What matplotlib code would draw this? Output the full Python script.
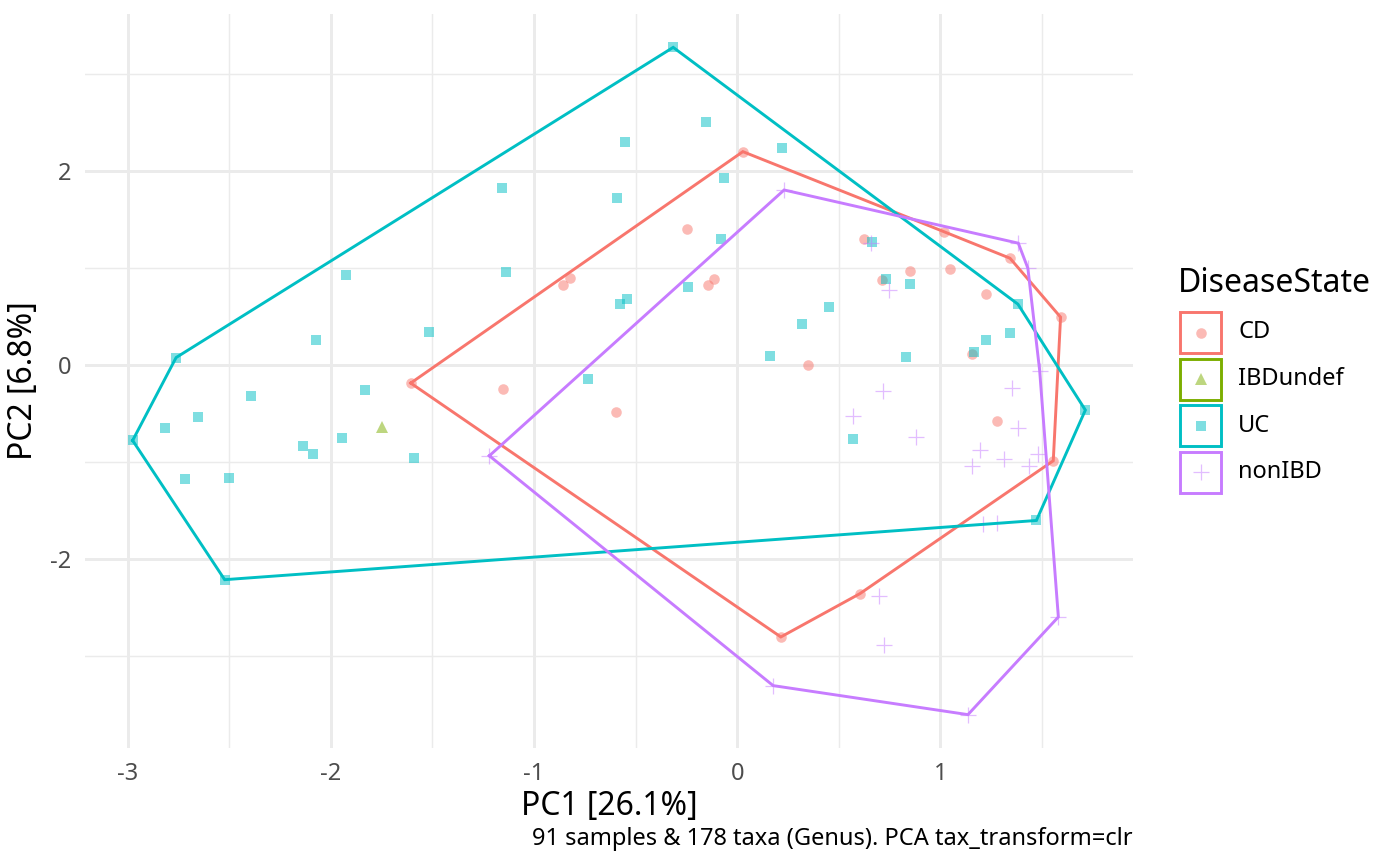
import matplotlib
matplotlib.use('Agg')
import matplotlib.pyplot as plt
from matplotlib.patches import Rectangle

plt.rcParams['font.family'] = ['Noto Sans', 'DejaVu Sans']
plt.rcParams['axes.unicode_minus'] = False

# PCA scores, one group per disease state
cd_x = [0.028, -0.249, -0.823, -0.856, -0.113, -0.144, 0.351, -1.154, -0.597, -1.607,
        0.215, 0.604, 0.623, 1.017, 1.343, 0.853, 1.048, 0.715, 1.227, 1.592,
        1.158, 1.277, 1.556]
cd_y = [2.196, 1.397, 0.899, 0.823, 0.885, 0.823, 0.003, -0.250, -0.487, -0.188,
        -2.803, -2.357, 1.300, 1.372, 1.098, 0.971, 0.985, 0.878, 0.731, 0.491,
        0.116, -0.576, -0.988]

ibdu_x = [-1.746]
ibdu_y = [-0.643]

uc_x = [-2.762, -2.071, -1.926, -1.516, -1.156, -1.136, -2.976, -2.818, -2.656, -2.395,
        -1.831, -2.138, -2.090, -1.946, -1.592, -2.717, -2.504, -2.523, -0.315, -0.155,
        -0.551, 0.220, -0.065, -0.593, -0.082, -0.243, -0.544, -0.577, 0.453, 0.320,
        0.164, -0.736, 0.664, 0.735, 0.853, 1.382, 1.343, 1.225, 1.164, 0.831,
        1.714, 0.569, 1.473]
uc_y = [0.075, 0.260, 0.929, 0.343, 1.825, 0.960, -0.779, -0.652, -0.542, -0.319,
        -0.257, -0.841, -0.916, -0.751, -0.957, -1.173, -1.166, -2.213, 3.270, 2.504,
        2.292, 2.231, 1.922, 1.716, 1.297, 0.800, 0.679, 0.625, 0.600, 0.422,
        0.090, -0.147, 1.269, 0.882, 0.837, 0.625, 0.332, 0.257, 0.137, 0.082,
        -0.466, -0.762, -1.603]

non_x = [0.231, 0.661, 1.384, 1.431, 0.748, 1.489, 1.353, 0.720, 0.571, 1.382,
         0.879, 1.194, 1.481, 1.313, 1.158, 1.436, 1.210, 1.279, 0.697, 0.722,
         1.581, 1.136, 0.177, -1.220]
non_y = [1.801, 1.253, 1.253, 0.995, 0.772, -0.059, -0.240, -0.268, -0.525, -0.652,
         -0.748, -0.875, -0.916, -0.968, -1.047, -1.047, -1.637, -1.629, -2.378, -2.882,
         -2.597, -3.603, -3.304, -0.937]

groups = ['CD', 'IBDundef', 'UC', 'nonIBD']
colors = ['#F8766D', '#7CAE00', '#00BFC4', '#C77CFF']
markers = ['o', '^', 's', '+']
msizes = [7.6, 9.0, 7.2, 11.5]
xs = [cd_x, ibdu_x, uc_x, non_x]
ys = [cd_y, ibdu_y, uc_y, non_y]


def convex_hull(px, py):
    pts = sorted(set(zip(px, py)))
    if len(pts) < 3:
        return pts

    def cross(o, a, b):
        return (a[0] - o[0]) * (b[1] - o[1]) - (a[1] - o[1]) * (b[0] - o[0])

    lower = []
    for p in pts:
        while len(lower) >= 2 and cross(lower[-2], lower[-1], p) <= 0:
            lower.pop()
        lower.append(p)
    upper = []
    for p in reversed(pts):
        while len(upper) >= 2 and cross(upper[-2], upper[-1], p) <= 0:
            upper.pop()
        upper.append(p)
    return lower[:-1] + upper[:-1]


fig = plt.figure(figsize=(14, 8.66), dpi=100)
ax = fig.add_axes([85 / 1400, 118 / 866, 1048 / 1400, 734 / 866])

# points
for g, c, m, ms, x, y in zip(groups, colors, markers, msizes, xs, ys):
    mew = 0.9 if m == '+' else 0
    ax.plot(x, y, linestyle='none', marker=m, markersize=ms, color=c, alpha=0.5,
            markeredgewidth=mew, zorder=3)

# hulls
for g, c, x, y in zip(groups, colors, xs, ys):
    h = convex_hull(x, y)
    if len(h) >= 3:
        hx = [p[0] for p in h] + [h[0][0]]
        hy = [p[1] for p in h] + [h[0][1]]
        ax.plot(hx, hy, color=c, linewidth=2.1, zorder=4, solid_joinstyle='miter')

# ggplot style 5% expansion
allx = cd_x + ibdu_x + uc_x + non_x
ally = cd_y + ibdu_y + uc_y + non_y
dx = (max(allx) - min(allx)) * 0.05
dy = (max(ally) - min(ally)) * 0.05
ax.set_xlim(min(allx) - dx, max(allx) + dx)
ax.set_ylim(min(ally) - dy, max(ally) + dy)

ax.set_xticks([-3, -2, -1, 0, 1])
ax.set_xticks([-2.5, -1.5, -0.5, 0.5, 1.5], minor=True)
ax.set_yticks([-2, 0, 2])
ax.set_yticks([-3, -1, 1, 3], minor=True)
ax.grid(which='major', color='#EBEBEB', linewidth=2.1)
ax.grid(which='minor', color='#EBEBEB', linewidth=1.05)
ax.set_axisbelow(True)
for s in ax.spines.values():
    s.set_visible(False)
ax.tick_params(which='both', length=0, labelsize=17, labelcolor='#4D4D4D', pad=10)

ax.set_xlabel('PC1 [26.1%]', fontsize=23, labelpad=3)
ax.set_ylabel('PC2 [6.8%]', fontsize=23, labelpad=7)

# legend + caption drawn in figure pixels
ov = fig.add_axes([0, 0, 1, 1])
ov.set_xlim(0, 1400)
ov.set_ylim(866, 0)
ov.axis('off')
ov.text(1178, 283, 'DiseaseState', fontsize=23, va='center', ha='left')
row_y = [332.5, 379, 425.5, 472]
for g, c, m, ms, yy in zip(groups, colors, markers, msizes, row_y):
    ov.add_patch(Rectangle((1180, yy - 20.5), 41, 41, fill=False, edgecolor=c, linewidth=2.1))
    mew = 0.9 if m == '+' else 0
    ov.plot([1200.5], [yy], linestyle='none', marker=m, markersize=ms, color=c,
            alpha=0.5, markeredgewidth=mew)
    ov.text(1238, yy, g, fontsize=17, va='center', ha='left')

ov.text(1133, 839, '91 samples & 178 taxa (Genus). PCA tax_transform=clr',
        fontsize=17, ha='right', va='center')

fig.savefig('out.png', dpi=100)
